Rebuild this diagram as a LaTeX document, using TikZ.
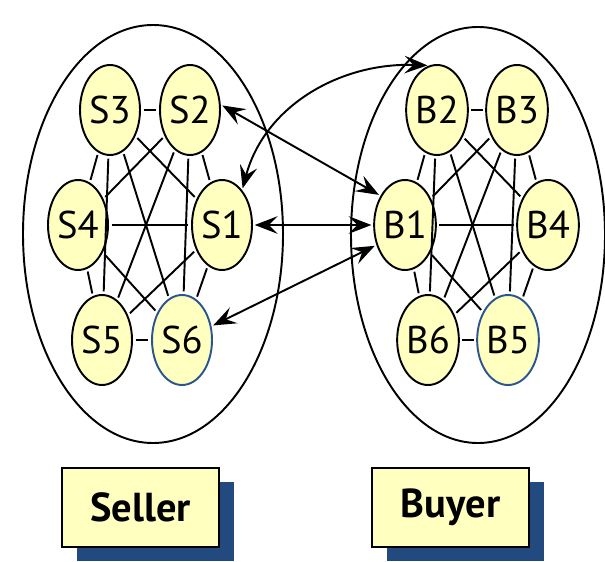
\documentclass[tikz,border=0pt]{standalone}
\usepackage{fontspec}
\setmainfont{PT Sans}
\usetikzlibrary{arrows.meta,shapes.geometric,shadows}
\definecolor{paleyellow}{HTML}{FFFFC0}
\definecolor{shadowblue}{HTML}{224A7E}
\definecolor{edgeblue}{HTML}{2A5590}
\begin{document}
\begin{tikzpicture}[
  agent/.style={ellipse, draw, line width=1.1pt, fill=paleyellow, minimum width=1.2cm, minimum height=1.8cm, inner sep=0pt, font=\fontsize{22}{26}\selectfont},
  lastagent/.style={agent, draw=edgeblue},
  group/.style={ellipse, draw, line width=1.1pt, inner sep=0pt},
  link/.style={line width=1.1pt, shorten >=1.5pt, shorten <=1.5pt},
  trade/.style={line width=1.1pt, shorten >=1pt, shorten <=1pt, {Stealth[length=13pt,width=10pt,inset=5pt]}-{Stealth[length=13pt,width=10pt,inset=5pt]}},
  role/.style={rectangle, draw, line width=1.2pt, fill=paleyellow, minimum width=3.14cm, minimum height=1.58cm, font=\bfseries\fontsize{23}{27}\selectfont, drop shadow={shadow xshift=0.3cm, shadow yshift=-0.28cm, fill=shadowblue, opacity=1}}
]
\useasboundingbox (0,0) rectangle (12.1,11.22);

\node[group, minimum width=5.2cm, minimum height=8.36cm] (sellers) at (3.06, 6.54) {};
\node[group, minimum width=5.08cm, minimum height=8.32cm] (buyers) at (9.56, 6.52) {};

\node[agent] (S3) at (2.2, 9.02) {S3};
\node[agent] (S2) at (3.8, 9.02) {S2};
\node[agent] (S4) at (1.56, 6.72) {S4};
\node[agent] (S1) at (4.44, 6.72) {S1};
\node[agent] (S5) at (2.04, 4.42) {S5};
\node[lastagent] (S6) at (3.64, 4.42) {S6};

\node[agent] (B2) at (8.74, 9.02) {B2};
\node[agent] (B3) at (10.34, 9.02) {B3};
\node[agent] (B1) at (8.1, 6.72) {B1};
\node[agent] (B4) at (10.96, 6.72) {B4};
\node[agent] (B6) at (8.56, 4.42) {B6};
\node[lastagent] (B5) at (10.16, 4.42) {B5};

\draw[link] (S3) -- (S2);
\draw[link] (S3) -- (S4);
\draw[link] (S3) -- (S1);
\draw[link] (S3) -- (S5);
\draw[link] (S3) -- (S6);
\draw[link] (S2) -- (S4);
\draw[link] (S2) -- (S1);
\draw[link] (S2) -- (S5);
\draw[link] (S2) -- (S6);
\draw[link] (S4) -- (S1);
\draw[link] (S4) -- (S5);
\draw[link] (S4) -- (S6);
\draw[link] (S1) -- (S5);
\draw[link] (S1) -- (S6);
\draw[link] (S5) -- (S6);

\draw[link] (B2) -- (B3);
\draw[link] (B2) -- (B1);
\draw[link] (B2) -- (B4);
\draw[link] (B2) -- (B6);
\draw[link] (B2) -- (B5);
\draw[link] (B3) -- (B1);
\draw[link] (B3) -- (B4);
\draw[link] (B3) -- (B6);
\draw[link] (B3) -- (B5);
\draw[link] (B1) -- (B4);
\draw[link] (B1) -- (B6);
\draw[link] (B1) -- (B5);
\draw[link] (B4) -- (B6);
\draw[link] (B4) -- (B5);
\draw[link] (B6) -- (B5);

\draw[trade] (S2.10) -- (B1.130);
\draw[trade] (S1) -- (B1);
\draw[trade] (S6.25) -- (B1.215);
\draw[trade] (S1.60) to[out=75, in=178] (B2.100);

\node[role] (seller) at (2.81, 1.07) {Seller};
\node[role] (buyer) at (9.01, 1.07) {Buyer};

\end{tikzpicture}
\end{document}
